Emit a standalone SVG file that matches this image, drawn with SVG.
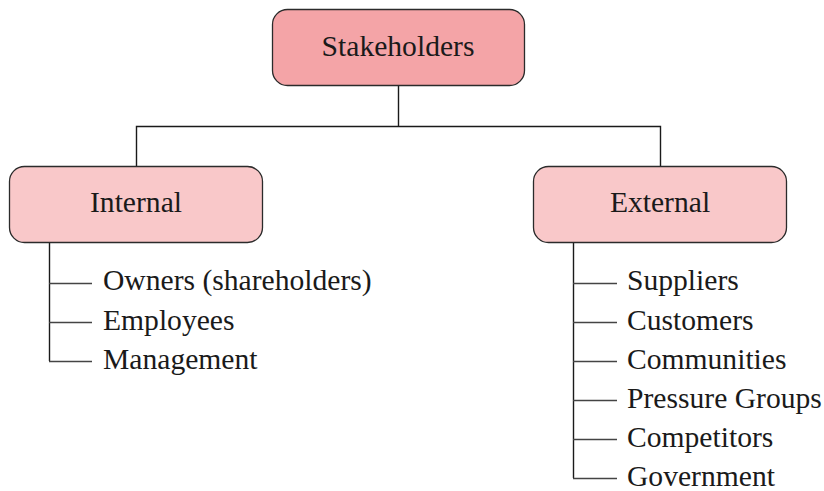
<svg xmlns="http://www.w3.org/2000/svg" width="824" height="491" viewBox="0 0 824 491">
<style>
.box{stroke:#2b2b2b;stroke-width:1.3}
.t{font-family:"Liberation Serif","Times New Roman",serif;font-size:29.6px;fill:#1a1a1a}
.c{text-anchor:middle}
.ln{fill:none;stroke:#1a1a1a;stroke-width:1.4}
.tk{fill:none;stroke:#444;stroke-width:1.3}
</style>
<rect width="824" height="491" fill="#ffffff"/>
<g id="connectors">
<path class="ln" d="M398.5 85 V126.5 M136.5 167 V126.5 H660.5 V167"/>
<path class="ln" d="M49.5 242 V361"/>
<path class="tk" d="M49 283.5 H92 M49 322.5 H92 M49 361.5 H92"/>
<path class="ln" d="M573.5 242 V478"/>
<path class="tk" d="M573 283.5 H617 M573 322.5 H617 M573 361.5 H617 M573 400.5 H617 M573 439.5 H617 M573 478.5 H617"/>
</g>
<g id="stakeholders">
<rect class="box" x="272.5" y="9.5" width="252" height="76" rx="15" fill="#f4a4a7"/>
<text class="t c" x="398" y="56">Stakeholders</text>
</g>
<g id="internal">
<rect class="box" x="9.5" y="166.5" width="253" height="76" rx="15" fill="#f9c8c9"/>
<text class="t c" x="136" y="212">Internal</text>
</g>
<g id="external">
<rect class="box" x="533.5" y="166.5" width="253" height="76" rx="15" fill="#f9c8c9"/>
<text class="t c" x="660" y="212">External</text>
</g>
<g id="internal-items">
<text class="t" x="103" y="290">Owners (shareholders)</text>
<text class="t" x="103" y="330">Employees</text>
<text class="t" x="103" y="369">Management</text>
</g>
<g id="external-items">
<text class="t" x="627" y="290">Suppliers</text>
<text class="t" x="627" y="330">Customers</text>
<text class="t" x="627" y="369">Communities</text>
<text class="t" x="627" y="408">Pressure Groups</text>
<text class="t" x="627" y="447">Competitors</text>
<text class="t" x="627" y="486">Government</text>
</g>
</svg>
